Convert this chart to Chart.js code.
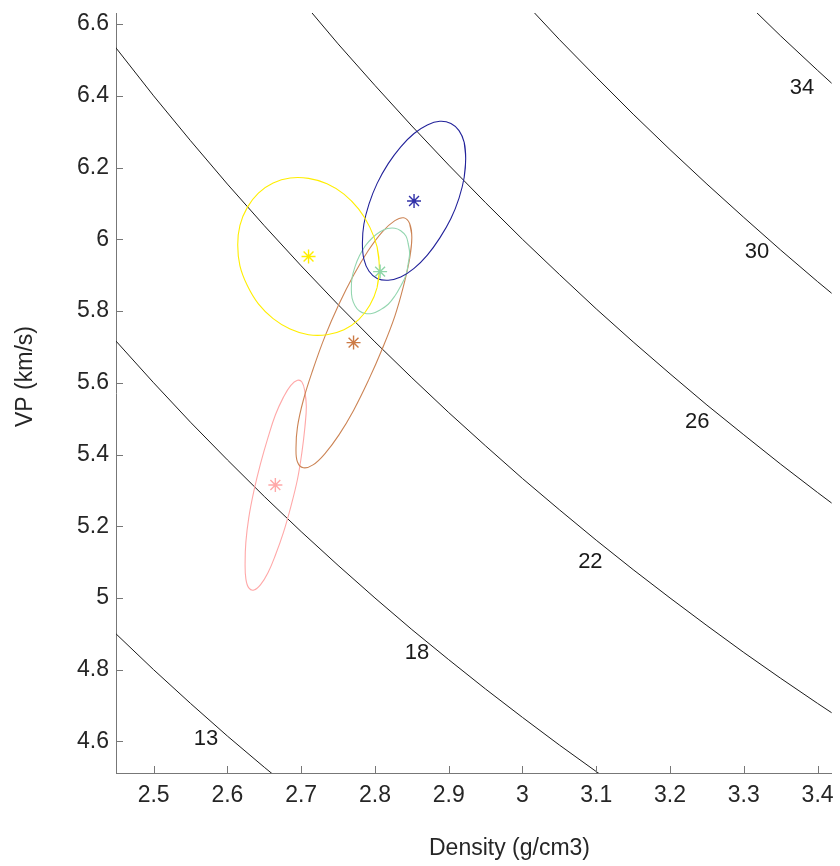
<!DOCTYPE html>
<html><head><meta charset="utf-8">
<script src="https://cdn.jsdelivr.net/npm/chart.js@4.4.1/dist/chart.umd.min.js"></script>
<style>html,body{margin:0;padding:0;background:#fff}#wrap{width:840px;height:866px;position:relative}</style>
</head><body><div id="wrap"><canvas id="c" width="840" height="866"></canvas></div>
<script>
// ---- axis ticks ----
const xTicks = [2.5, 2.6, 2.7, 2.8, 2.9, 3.0, 3.1, 3.2, 3.3, 3.4];
const yTicks = [4.6, 4.8, 5.0, 5.2, 5.4, 5.6, 5.8, 6.0, 6.2, 6.4, 6.6];
const xTitle = 'Density (g/cm3)';
const yTitle = 'VP (km/s)';

// ---- contour lines ----
const contourDensity = [2.40, 2.45, 2.50, 2.55, 2.60, 2.65, 2.70, 2.75, 2.80, 2.85, 2.90, 2.95, 3.00, 3.05, 3.10, 3.15, 3.20, 3.25, 3.30, 3.35, 3.40, 3.45];
const vp13 = [5.000, 4.898, 4.800, 4.706, 4.615, 4.528, 4.444, 4.364, 4.286, 4.211, 4.138, 4.068, 4.000, 3.934, 3.871, 3.810, 3.750, 3.692, 3.636, 3.582, 3.529, 3.478];
const vp18 = [5.833, 5.714, 5.600, 5.490, 5.385, 5.283, 5.185, 5.091, 5.000, 4.912, 4.828, 4.746, 4.667, 4.590, 4.516, 4.444, 4.375, 4.308, 4.242, 4.179, 4.118, 4.058];
const vp22 = [6.667, 6.531, 6.400, 6.275, 6.154, 6.038, 5.926, 5.818, 5.714, 5.614, 5.517, 5.424, 5.333, 5.246, 5.161, 5.079, 5.000, 4.923, 4.848, 4.776, 4.706, 4.638];
const vp26 = [7.500, 7.347, 7.200, 7.059, 6.923, 6.792, 6.667, 6.545, 6.429, 6.316, 6.207, 6.102, 6.000, 5.902, 5.806, 5.714, 5.625, 5.538, 5.455, 5.373, 5.294, 5.217];
const vp30 = [8.333, 8.163, 8.000, 7.843, 7.692, 7.547, 7.407, 7.273, 7.143, 7.018, 6.897, 6.780, 6.667, 6.557, 6.452, 6.349, 6.250, 6.154, 6.061, 5.970, 5.882, 5.797];
const vp34 = [9.167, 8.980, 8.800, 8.627, 8.462, 8.302, 8.148, 8.000, 7.857, 7.719, 7.586, 7.458, 7.333, 7.213, 7.097, 6.984, 6.875, 6.769, 6.667, 6.567, 6.471, 6.377];
const contourLabels = ['13', '18', '22', '26', '30', '34'];
const labelDensity = [2.571, 2.857, 3.092, 3.237, 3.318, 3.379];
const labelVP = [4.608, 4.846, 5.100, 5.492, 5.966, 6.422];

// ---- group centres (asterisks) ----
const centerDensity = [2.710, 2.853, 2.807, 2.771, 2.665];
const centerVP = [5.952, 6.107, 5.910, 5.712, 5.315];

// ---- ellipse outlines ----
const ellYellowD = [2.806, 2.803, 2.793, 2.778, 2.758, 2.735, 2.710, 2.685, 2.662, 2.642, 2.627, 2.617, 2.614, 2.617, 2.627, 2.642, 2.662, 2.685, 2.710, 2.735, 2.758, 2.778, 2.793, 2.803];
const ellYellowV = [5.921, 5.866, 5.816, 5.776, 5.748, 5.734, 5.734, 5.750, 5.779, 5.820, 5.871, 5.926, 5.984, 6.039, 6.089, 6.129, 6.157, 6.171, 6.170, 6.155, 6.126, 6.084, 6.034, 5.978];
const ellNavyD = [2.923, 2.921, 2.914, 2.903, 2.888, 2.871, 2.853, 2.835, 2.818, 2.803, 2.792, 2.785, 2.783, 2.785, 2.792, 2.803, 2.818, 2.835, 2.853, 2.871, 2.888, 2.903, 2.914, 2.921];
const ellNavyV = [6.225, 6.173, 6.115, 6.058, 6.004, 5.956, 5.919, 5.895, 5.886, 5.891, 5.911, 5.945, 5.989, 6.042, 6.099, 6.156, 6.211, 6.258, 6.295, 6.319, 6.329, 6.323, 6.303, 6.270];
const ellGreenD = [2.847, 2.845, 2.842, 2.835, 2.827, 2.818, 2.807, 2.797, 2.787, 2.779, 2.773, 2.769, 2.768, 2.769, 2.773, 2.779, 2.787, 2.797, 2.807, 2.817, 2.827, 2.835, 2.842, 2.845];
const ellGreenV = [5.961, 5.931, 5.900, 5.870, 5.842, 5.819, 5.803, 5.794, 5.793, 5.800, 5.815, 5.836, 5.863, 5.893, 5.924, 5.954, 5.982, 6.005, 6.021, 6.030, 6.031, 6.024, 6.009, 5.988];
const ellBrownD = [2.850, 2.847, 2.839, 2.827, 2.810, 2.791, 2.771, 2.751, 2.732, 2.716, 2.703, 2.695, 2.693, 2.695, 2.703, 2.716, 2.732, 2.751, 2.771, 2.791, 2.810, 2.827, 2.839, 2.847];
const ellBrownV = [6.005, 5.946, 5.872, 5.786, 5.695, 5.606, 5.523, 5.454, 5.402, 5.371, 5.363, 5.379, 5.418, 5.477, 5.552, 5.637, 5.728, 5.818, 5.900, 5.969, 6.021, 6.052, 6.060, 6.044];
const ellPinkD = [2.707, 2.705, 2.701, 2.695, 2.686, 2.676, 2.665, 2.655, 2.645, 2.636, 2.629, 2.625, 2.624, 2.625, 2.629, 2.636, 2.645, 2.655, 2.665, 2.676, 2.686, 2.695, 2.701, 2.705];
const ellPinkV = [5.533, 5.475, 5.406, 5.331, 5.255, 5.183, 5.119, 5.070, 5.037, 5.022, 5.028, 5.054, 5.097, 5.155, 5.224, 5.299, 5.375, 5.447, 5.510, 5.560, 5.593, 5.607, 5.602, 5.576];

// ---- styles ----
const FONT = '"Liberation Sans", Arial, Helvetica, sans-serif';
const ellipseColors = ['#ffee00', '#22229a', '#94d6b0', '#cc8455', '#ffa8a8'];
const starColors = ['#ffee00', '#3030a8', '#8fd6a8', '#cc7a45', '#ffa8a8'];

function pts(xs, ys) { return xs.map((v, i) => ({x: v, y: ys[i]})); }
function loop(xs, ys) { const p = pts(xs, ys); const n = p.length; return [p[n - 1], ...p, p[0], p[1]]; }

const datasets = [];
centerDensity.forEach((d, i) => {
  datasets.push({data: [{x: d, y: centerVP[i]}], showLine: false, pointStyle: 'star', pointRadius: 7,
    borderColor: starColors[i], backgroundColor: starColors[i], pointBorderWidth: 1.4, order: 0});
});
const ells = [[ellYellowD, ellYellowV], [ellNavyD, ellNavyV], [ellGreenD, ellGreenV], [ellBrownD, ellBrownV], [ellPinkD, ellPinkV]];
ells.forEach((e, i) => {
  datasets.push({data: loop(e[0], e[1]), showLine: true, pointRadius: 0, borderColor: ellipseColors[i],
    borderWidth: 1.1, tension: 0.4, fill: false, order: 1, clip: 0});
});
[vp13, vp18, vp22, vp26, vp30, vp34].forEach(v => {
  datasets.push({data: pts(contourDensity, v), showLine: true, pointRadius: 0, borderColor: '#1a1a1a',
    borderWidth: 1, tension: 0, fill: false, order: 2, clip: 0});
});

const fmt = v => String(parseFloat(Number(v).toFixed(2)));

const decor = {
  id: 'decor',
  beforeDraw(chart) {
    const c = chart.ctx; c.save(); c.fillStyle = '#fff'; c.fillRect(0, 0, chart.width, chart.height); c.restore();
  },
  afterDraw(chart) {
    const {ctx, chartArea: a, scales: {x, y}} = chart;
    ctx.save();
    ctx.strokeStyle = '#777'; ctx.lineWidth = 1;
    ctx.beginPath();
    xTicks.forEach(v => { const px = Math.round(x.getPixelForValue(v)) + 0.5; ctx.moveTo(px, a.bottom); ctx.lineTo(px, a.bottom - 7); });
    yTicks.forEach(v => { const py = Math.round(y.getPixelForValue(v)) + 0.5; ctx.moveTo(a.left, py); ctx.lineTo(a.left + 7, py); });
    ctx.stroke();
    ctx.fillStyle = '#1a1a1a';
    ctx.font = '22px ' + FONT; ctx.textAlign = 'center'; ctx.textBaseline = 'middle';
    contourLabels.forEach((t, i) => ctx.fillText(t, x.getPixelForValue(labelDensity[i]), y.getPixelForValue(labelVP[i])));
    ctx.fillStyle = '#262626';
    ctx.font = '23px ' + FONT;
    ctx.fillText(xTitle, 509.5, 848.5);
    ctx.translate(26, 376.5); ctx.rotate(-Math.PI / 2); ctx.fillText(yTitle, 0, 0);
    ctx.restore();
  }
};

new Chart(document.getElementById('c'), {
  type: 'scatter',
  data: {datasets},
  plugins: [decor],
  options: {
    responsive: false, animation: false, devicePixelRatio: 1,
    layout: {padding: {left: 0, right: 7, top: 13, bottom: 0}},
    plugins: {legend: {display: false}, tooltip: {enabled: false}},
    scales: {
      x: {type: 'linear', min: 2.449, max: 3.419,
        afterBuildTicks: s => { s.ticks = xTicks.map(v => ({value: v})); },
        afterFit: s => { s.height = 93; s.paddingLeft = 0; s.paddingRight = 0; },
        grid: {display: false, drawTicks: false},
        border: {display: true, color: '#777', width: 1},
        ticks: {padding: 9, color: '#262626', font: {family: FONT, size: 23}, maxRotation: 0, autoSkip: false, callback: v => fmt(v)}},
      y: {type: 'linear', min: 4.512, max: 6.631,
        afterBuildTicks: s => { s.ticks = yTicks.map(v => ({value: v})); },
        afterFit: s => { s.width = 116; s.paddingTop = 0; s.paddingBottom = 0; },
        grid: {display: false, drawTicks: false},
        border: {display: true, color: '#777', width: 1},
        ticks: {padding: 7, color: '#262626', font: {family: FONT, size: 23}, autoSkip: false, callback: v => fmt(v)}}
    }
  }
});
</script></body></html>
